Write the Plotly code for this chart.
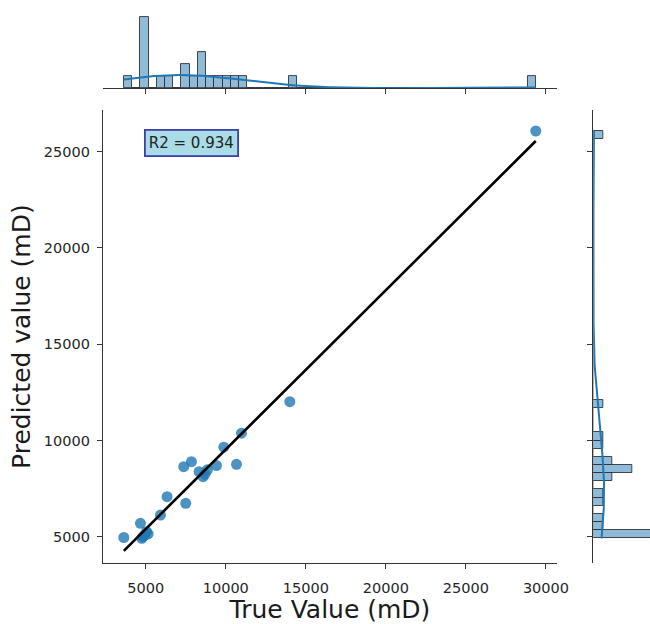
import numpy as np
import plotly.graph_objects as go

# ---- data ----
true_vals = [3630, 4750, 4830, 4940, 5050, 5150, 4669, 5919, 6331, 7500, 7375,
             7856, 8331, 8581, 8700, 8850, 9419, 9875, 10669, 10981, 14000, 29363]
pred_vals = [4960, 4917, 5000, 5090, 5260, 5150, 5696, 6127, 7078, 6735, 8636,
             8896, 8377, 8117, 8250, 8480, 8700, 9650, 8761, 10380, 12013, 26075]
r2_label = "R2 = 0.934"
x_ticks = [5000, 10000, 15000, 20000, 25000, 30000]
x_tick_text = ["5000", "10000", "15000", "20000", "25000", "30000"]
y_ticks = [5000, 10000, 15000, 20000, 25000]
y_tick_text = ["5000", "10000", "15000", "20000", "25000"]
n_bins = 50

tx = np.array(true_vals, dtype=float)
py = np.array(pred_vals, dtype=float)

# histograms
cx, ex = np.histogram(tx, bins=n_bins)
cy, ey = np.histogram(py, bins=n_bins)
wx = ex[1] - ex[0]
wy = ey[1] - ey[0]


def kde_counts(d, edges_w, npts=300):
    n = len(d)
    bw = n ** (-1 / 5) * d.std(ddof=1)
    g = np.linspace(d.min(), d.max(), npts)
    dens = np.exp(-0.5 * ((g[:, None] - d[None, :]) / bw) ** 2).sum(1) / (n * bw * np.sqrt(2 * np.pi))
    return g, dens * n * edges_w


gx, kx = kde_counts(tx, wx)
gy, ky = kde_counts(py, wy)

# regression line
slope, icpt = np.polyfit(tx, py, 1)
lx = np.array([tx.min(), tx.max()])
ly = slope * lx + icpt

blue = "#1f77b4"
bar_fill = "rgba(31,119,180,0.5)"
edge = "rgba(50,50,60,0.9)"
axcol = "#333333"
font = "DejaVu Sans"

fig = go.Figure()
fig.add_trace(go.Scatter(x=tx, y=py, mode="markers",
                         marker=dict(size=11, color=blue, opacity=0.8, line=dict(width=0)),
                         xaxis="x", yaxis="y", showlegend=False))
fig.add_trace(go.Scatter(x=lx, y=ly, mode="lines", line=dict(color="black", width=2.6),
                         xaxis="x", yaxis="y", showlegend=False))

# top marginal
fig.add_trace(go.Bar(x=(ex[:-1] + ex[1:]) / 2, y=cx, width=wx,
                     marker=dict(color=bar_fill, line=dict(color=edge, width=1)),
                     xaxis="x2", yaxis="y2", showlegend=False))
fig.add_trace(go.Scatter(x=gx, y=kx, mode="lines", line=dict(color=blue, width=2),
                         xaxis="x2", yaxis="y2", showlegend=False))
# right marginal
fig.add_trace(go.Bar(y=(ey[:-1] + ey[1:]) / 2, x=cy, width=wy, orientation="h",
                     marker=dict(color=bar_fill, line=dict(color=edge, width=1)),
                     xaxis="x3", yaxis="y3", showlegend=False))
fig.add_trace(go.Scatter(x=ky, y=gy, mode="lines", line=dict(color=blue, width=2),
                         xaxis="x3", yaxis="y3", showlegend=False))

W, H = 650, 624
xr = [2330, 30690]
yr = [3620, 27166]

common_ax = dict(showgrid=False, zeroline=False, showline=True, linecolor=axcol, linewidth=1.3,
                 ticks="outside", ticklen=5, tickwidth=1.3, tickcolor=axcol, automargin=False)
tick_font = dict(family=font, size=14.5, color="#262626")

fig.update_layout(
    width=W, height=H, margin=dict(l=0, r=0, t=0, b=0, autoexpand=False),
    paper_bgcolor="white", plot_bgcolor="white", bargap=0,
    font=dict(family=font),
    xaxis=dict(domain=[103 / W, 557 / W], range=xr, tickvals=x_ticks, ticktext=x_tick_text, anchor="y",
               tickfont=tick_font, ticklabelstandoff=6,
               title=dict(text="True Value (mD)", font=dict(family=font, size=25, color="#1a1a1a"), standoff=4),
               **common_ax),
    yaxis=dict(domain=[1 - 563.3 / H, 1 - 110 / H], range=yr, tickvals=y_ticks, ticktext=y_tick_text,
               anchor="x", tickfont=tick_font, ticklabelstandoff=4,
               title=dict(text="Predicted value (mD)", font=dict(family=font, size=25, color="#1a1a1a"), standoff=6),
               **common_ax),
    xaxis2=dict(domain=[103 / W, 557 / W], range=xr, tickvals=x_ticks, showticklabels=False,
                anchor="y2", **common_ax),
    yaxis2=dict(domain=[1 - 88.3 / H, 1 - 13.1 / H], range=[0, 6.3], visible=False, anchor="x2",
                automargin=False),
    xaxis3=dict(domain=[593.3 / W, 1.0], range=[0, 5.82], visible=False, anchor="y3", automargin=False),
    yaxis3=dict(domain=[1 - 563.3 / H, 1 - 110 / H], range=yr, tickvals=y_ticks, showticklabels=False,
                anchor="x3", **common_ax),
)

fig.add_annotation(x=7888, y=25452, xref="x", yref="y", text=r2_label, showarrow=False,
                   font=dict(family=font, size=15, color="#222222"),
                   bgcolor="#a9dce6", bordercolor="#3d40a8", borderwidth=1.8, borderpad=3)

fig.write_html("out.html")
